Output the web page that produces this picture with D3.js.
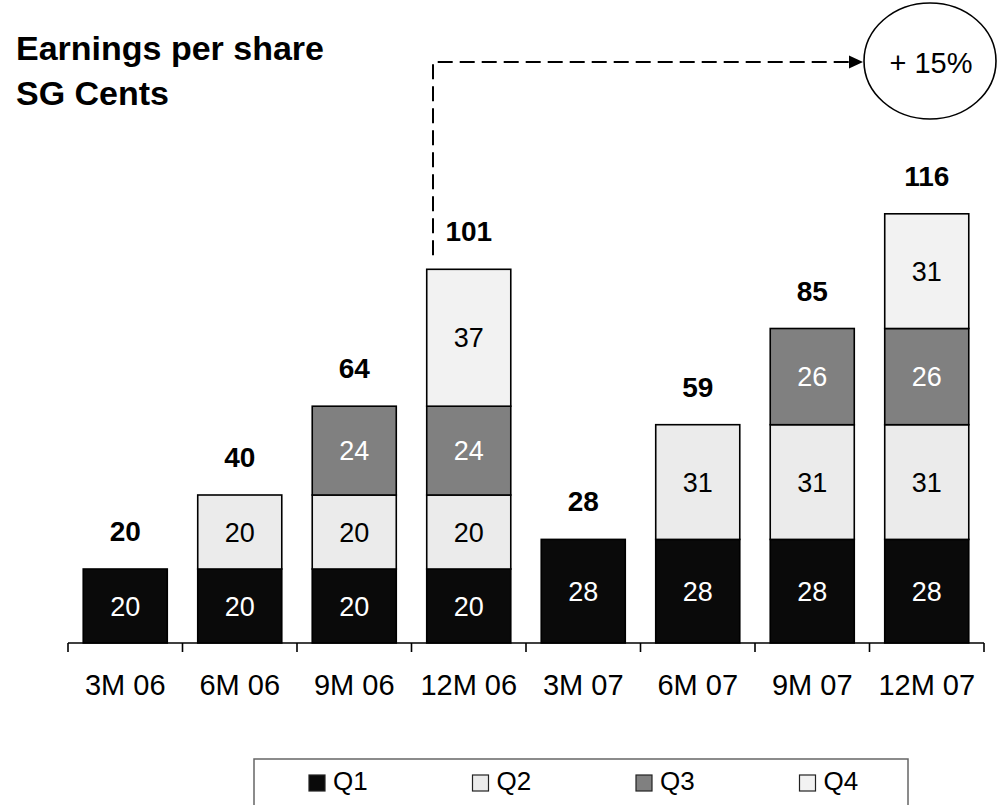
<!DOCTYPE html>
<html>
<head>
<meta charset="utf-8">
<script src="https://cdn.jsdelivr.net/npm/d3@7"></script>
<style>
  body { margin: 0; background: #fff; }
  svg { font-family: Arial, "Liberation Sans", sans-serif; }
</style>
</head>
<body>
<script>
// data
var categories = ["3M 06", "6M 06", "9M 06", "12M 06", "3M 07", "6M 07", "9M 07", "12M 07"];
var q1 = [20, 20, 20, 20, 28, 28, 28, 28];
var q2 = [0, 20, 20, 20, 0, 31, 31, 31];
var q3 = [0, 0, 24, 24, 0, 0, 26, 26];
var q4 = [0, 0, 0, 37, 0, 0, 0, 31];
var totals = [20, 40, 64, 101, 28, 59, 85, 116];
var seriesNames = ["Q1", "Q2", "Q3", "Q4"];
var growthLabel = "+ 15%";

var width = 999, height = 805;

var colors = { Q1: "#0a0a0a", Q2: "#ebebeb", Q3: "#808080", Q4: "#f2f2f2" };
var textColors = { Q1: "#fff", Q2: "#000", Q3: "#fff", Q4: "#000" };

var rows = categories.map(function(c, i) {
  return { cat: c, Q1: q1[i], Q2: q2[i], Q3: q3[i], Q4: q4[i] };
});

var stack = d3.stack().keys(seriesNames);
var layers = stack(rows);

var x = d3.scaleBand()
  .domain(categories)
  .range([68, 984])
  .paddingInner(0.266)
  .paddingOuter(0.133);

var y = d3.scaleLinear()
  .domain([0, 120])
  .range([643, 643 - 444]);

var svg = d3.select("body").append("svg")
  .attr("width", width)
  .attr("height", height);

// title
svg.append("text")
  .attr("x", 16).attr("y", 60)
  .style("font-size", "34px").style("font-weight", "bold")
  .text("Earnings per share");
svg.append("text")
  .attr("x", 16).attr("y", 105)
  .style("font-size", "34px").style("font-weight", "bold")
  .text("SG Cents");

// bars
var segs = function(d) {
  return d.map(function(p) { return { key: d.key, p: p }; })
          .filter(function(o) { return o.p[1] - o.p[0] > 0; });
};

var layer = svg.selectAll(".layer")
  .data(layers)
  .enter().append("g")
  .attr("class", "layer");

layer.selectAll("rect")
  .data(segs)
  .enter().append("rect")
  .attr("x", function(o) { return x(o.p.data.cat); })
  .attr("width", x.bandwidth())
  .attr("y", function(o) { return y(o.p[1]); })
  .attr("height", function(o) { return y(o.p[0]) - y(o.p[1]); })
  .style("fill", function(o) { return colors[o.key]; })
  .style("stroke", "#000")
  .style("stroke-width", 1.6);

layer.selectAll("text")
  .data(segs)
  .enter().append("text")
  .attr("x", function(o) { return x(o.p.data.cat) + x.bandwidth() / 2; })
  .attr("y", function(o) { return (y(o.p[0]) + y(o.p[1])) / 2; })
  .attr("dy", "0.36em")
  .style("text-anchor", "middle")
  .style("font-size", "27px")
  .style("fill", function(o) { return textColors[o.key]; })
  .text(function(o) { return o.p[1] - o.p[0]; });

// totals
svg.selectAll(".total")
  .data(totals)
  .enter().append("text")
  .attr("class", "total")
  .attr("x", function(d, i) { return x(categories[i]) + x.bandwidth() / 2; })
  .attr("y", function(d) { return y(d) - 28; })
  .style("text-anchor", "middle")
  .style("font-size", "28px")
  .style("font-weight", "bold")
  .text(function(d) { return d; });

// x axis, ticks at band boundaries
var step = x.step();
var axisG = svg.append("g");
axisG.append("line")
  .attr("x1", 68).attr("x2", 984)
  .attr("y1", 643).attr("y2", 643)
  .style("stroke", "#000").style("stroke-width", 1.6);
var bounds = categories.map(function(c) { return x(c) - step * 0.133; }).concat([984]);
axisG.selectAll(".tick")
  .data(bounds)
  .enter().append("line")
  .attr("x1", function(d) { return d; }).attr("x2", function(d) { return d; })
  .attr("y1", 643).attr("y2", 652)
  .style("stroke", "#000").style("stroke-width", 1.6);
axisG.selectAll(".xlabel")
  .data(categories)
  .enter().append("text")
  .attr("x", function(d) { return x(d) + x.bandwidth() / 2; })
  .attr("y", 695)
  .style("text-anchor", "middle")
  .style("font-size", "29px")
  .text(function(d) { return d; });

// growth annotation
var fromX = 433, topY = 62;
svg.append("path")
  .attr("d", "M" + fromX + "," + (y(totals[3]) - 14) + " V" + topY + " H850")
  .style("fill", "none")
  .style("stroke", "#000")
  .style("stroke-width", 2)
  .style("stroke-dasharray", "15,7");
svg.append("path")
  .attr("d", "M849,55.5 L863,62 L849,68.5 Z")
  .style("fill", "#000");
svg.append("ellipse")
  .attr("cx", 930).attr("cy", 61)
  .attr("rx", 66).attr("ry", 58)
  .style("fill", "#fff")
  .style("stroke", "#000")
  .style("stroke-width", 1.6);
svg.append("text")
  .attr("x", 931).attr("y", 73)
  .style("text-anchor", "middle")
  .style("font-size", "29px")
  .text(growthLabel);

// legend
svg.append("rect")
  .attr("x", 254).attr("y", 759)
  .attr("width", 654).attr("height", 60)
  .style("fill", "#fff")
  .style("stroke", "#666")
  .style("stroke-width", 1.5);
var leg = svg.selectAll(".legend")
  .data(seriesNames)
  .enter().append("g")
  .attr("class", "legend")
  .attr("transform", function(d, i) { return "translate(" + (309 + i * 163.5) + ",0)"; });
leg.append("rect")
  .attr("x", 0).attr("y", 775)
  .attr("width", 16).attr("height", 16)
  .style("fill", function(d) { return colors[d]; })
  .style("stroke", "#222")
  .style("stroke-width", 1.2);
leg.append("text")
  .attr("x", 24).attr("y", 790)
  .style("font-size", "26px")
  .text(function(d) { return d; });
</script>
</body>
</html>
